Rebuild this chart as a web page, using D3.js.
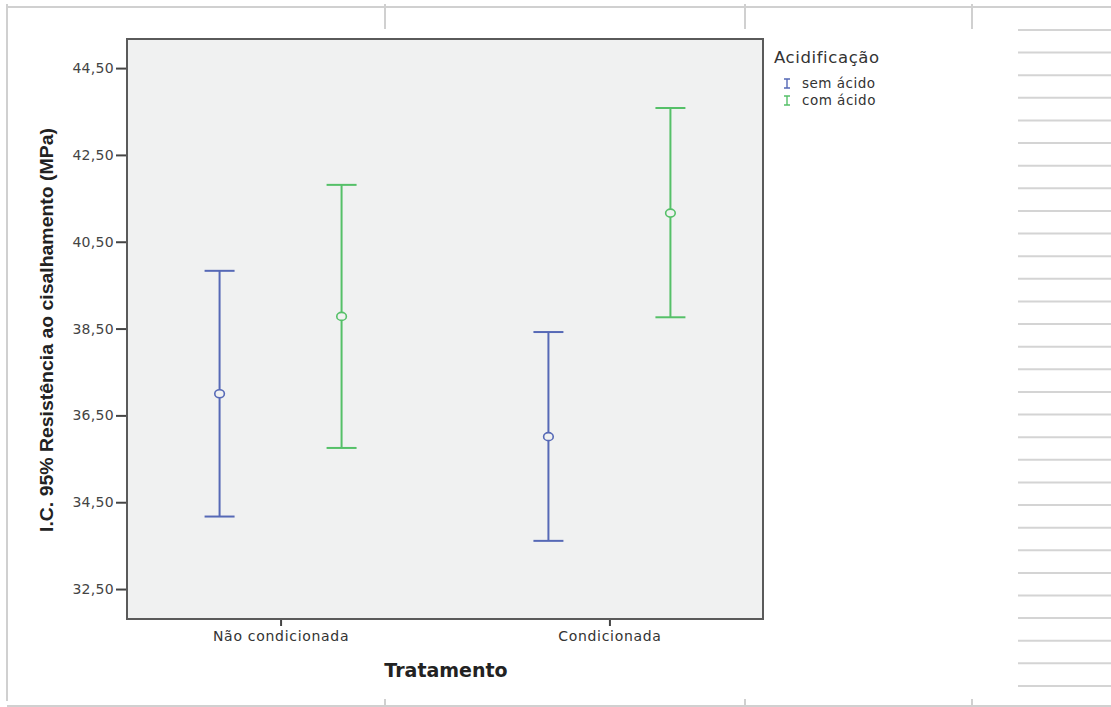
<!DOCTYPE html>
<html>
<head>
<meta charset="utf-8">
<script src="https://cdn.jsdelivr.net/npm/d3@7"></script>
<style>
  body { margin: 0; background: #fff; }
  svg { display: block; }
</style>
</head>
<body>
<svg id="chart"></svg>
<script>
// data
const categories = ["Não condicionada", "Condicionada"];
const groups = ["sem ácido", "com ácido"];
const means = [[37.00, 38.78], [36.01, 41.16]];
const lower = [[34.17, 35.75], [33.61, 38.76]];
const upper = [[39.83, 41.81], [38.42, 43.58]];
const yTicks = [32.5, 34.5, 36.5, 38.5, 40.5, 42.5, 44.5];

const W = 1111, H = 707;
const colors = ["#5669b6", "#55c068"];

const svg = d3.select("#chart").attr("width", W).attr("height", H);

// surrounding page frame (SPSS output viewer look)
const frame = svg.append("g").attr("stroke", "#d0d0d0").attr("stroke-width", 2);
frame.append("line").attr("x1", 7).attr("x2", W).attr("y1", 7).attr("y2", 7);
frame.append("line").attr("x1", 7).attr("x2", 7).attr("y1", 4).attr("y2", 701);
frame.append("line").attr("x1", 7).attr("x2", W).attr("y1", 706).attr("y2", 706);
[385, 745, 972].forEach(x => {
    frame.append("line").attr("x1", x).attr("x2", x).attr("y1", 4).attr("y2", 29);
    frame.append("line").attr("x1", x).attr("x2", x).attr("y1", 699).attr("y2", 707);
});
svg.append("g").attr("stroke", "#d4d4d4").attr("stroke-width", 2)
    .selectAll("line").data(d3.range(30)).enter().append("line")
    .attr("x1", 1018).attr("x2", W)
    .attr("y1", d => 30 + d * 22.62).attr("y2", d => 30 + d * 22.62);

const margin = { top: 39, left: 127, right: 763, bottom: 619 };

const x = d3.scalePoint()
    .domain(categories)
    .range([margin.left, margin.right])
    .padding(0.467);

const xg = d3.scalePoint()
    .domain(groups)
    .range([-61, 61]);

const y = d3.scaleLinear()
    .domain([31.81, 45.17])
    .range([margin.bottom, margin.top]);

// plot background
svg.append("rect")
    .attr("x", margin.left).attr("y", margin.top)
    .attr("width", margin.right - margin.left)
    .attr("height", margin.bottom - margin.top)
    .attr("fill", "#f0f1f1");

const fmt = v => d3.format(".2f")(v).replace(".", ",");

// y axis
const yAxis = svg.append("g")
    .attr("transform", `translate(${margin.left},0)`)
    .call(d3.axisLeft(y).tickValues(yTicks).tickFormat(fmt).tickSize(11).tickPadding(2));
yAxis.select(".domain").remove();
yAxis.selectAll("line").attr("stroke", "#444").attr("stroke-width", 2);
yAxis.selectAll("text")
    .attr("fill", "#444")
    .style("font-family", "DejaVu Sans, Verdana, sans-serif")
    .style("font-size", "14px")
    .style("letter-spacing", "0.3px");

// x axis
const xAxis = svg.append("g")
    .attr("transform", `translate(0,${margin.bottom})`)
    .call(d3.axisBottom(x).tickSize(7).tickPadding(5));
xAxis.select(".domain").remove();
xAxis.selectAll("line").attr("stroke", "#444").attr("stroke-width", 2);
xAxis.selectAll("text")
    .attr("fill", "#333")
    .style("font-family", "DejaVu Sans, Verdana, sans-serif")
    .style("font-size", "14px")
    .style("letter-spacing", "0.7px");

// plot border
svg.append("rect")
    .attr("x", margin.left).attr("y", margin.top)
    .attr("width", margin.right - margin.left)
    .attr("height", margin.bottom - margin.top)
    .attr("fill", "none")
    .attr("stroke", "#5a5a5a")
    .attr("stroke-width", 2);

// error bars
const rows = [];
categories.forEach((c, i) => groups.forEach((g, j) => {
    rows.push({ cat: c, grp: g, j, mean: means[i][j], lo: lower[i][j], hi: upper[i][j] });
}));

const bars = svg.selectAll(".bar").data(rows).enter().append("g")
    .attr("class", "bar")
    .attr("transform", d => `translate(${x(d.cat) + xg(d.grp)},0)`)
    .attr("stroke", d => colors[d.j])
    .attr("stroke-width", 2)
    .attr("fill", "none");

bars.append("line").attr("y1", d => y(d.lo)).attr("y2", d => y(d.hi));
bars.append("line").attr("x1", -15).attr("x2", 15).attr("y1", d => y(d.hi)).attr("y2", d => y(d.hi));
bars.append("line").attr("x1", -15).attr("x2", 15).attr("y1", d => y(d.lo)).attr("y2", d => y(d.lo));
bars.append("ellipse")
    .attr("cy", d => y(d.mean))
    .attr("rx", 4.8).attr("ry", 4)
    .attr("fill", "#f0f1f1")
    .attr("stroke-width", 1.6);

// axis titles
svg.append("text")
    .attr("transform", "translate(53,330) rotate(-90)")
    .attr("text-anchor", "middle")
    .attr("textLength", 404)
    .attr("lengthAdjust", "spacingAndGlyphs")
    .attr("fill", "#222")
    .style("font-family", "Liberation Sans, Arial, sans-serif")
    .style("font-weight", "bold")
    .style("font-size", "18px")
    .text("I.C. 95% Resistência ao cisalhamento (MPa)");

svg.append("text")
    .attr("x", 446).attr("y", 677)
    .attr("text-anchor", "middle")
    .attr("fill", "#222")
    .style("font-family", "DejaVu Sans, Verdana, sans-serif")
    .style("font-weight", "bold")
    .style("font-size", "19px")
    .text("Tratamento");

// legend
const legend = svg.append("g").attr("transform", "translate(774,0)");
legend.append("text")
    .attr("x", 0).attr("y", 63)
    .attr("fill", "#333")
    .style("font-family", "DejaVu Sans, Verdana, sans-serif")
    .style("font-size", "16.5px")
    .style("letter-spacing", "0.6px")
    .text("Acidificação");

const items = legend.selectAll(".item").data(groups).enter().append("g")
    .attr("class", "item")
    .attr("transform", (d, i) => `translate(0,${88 + i * 17})`);
items.append("path")
    .attr("d", "M10,-9H16M13,-9V0M10,0H16")
    .attr("stroke", (d, i) => colors[i])
    .attr("stroke-width", 1.4)
    .attr("fill", "none");
items.append("text")
    .attr("x", 28).attr("y", 0)
    .attr("fill", "#333")
    .style("font-family", "DejaVu Sans, Verdana, sans-serif")
    .style("font-size", "13.5px")
    .style("letter-spacing", "0.5px")
    .text(d => d);
</script>
</body>
</html>
